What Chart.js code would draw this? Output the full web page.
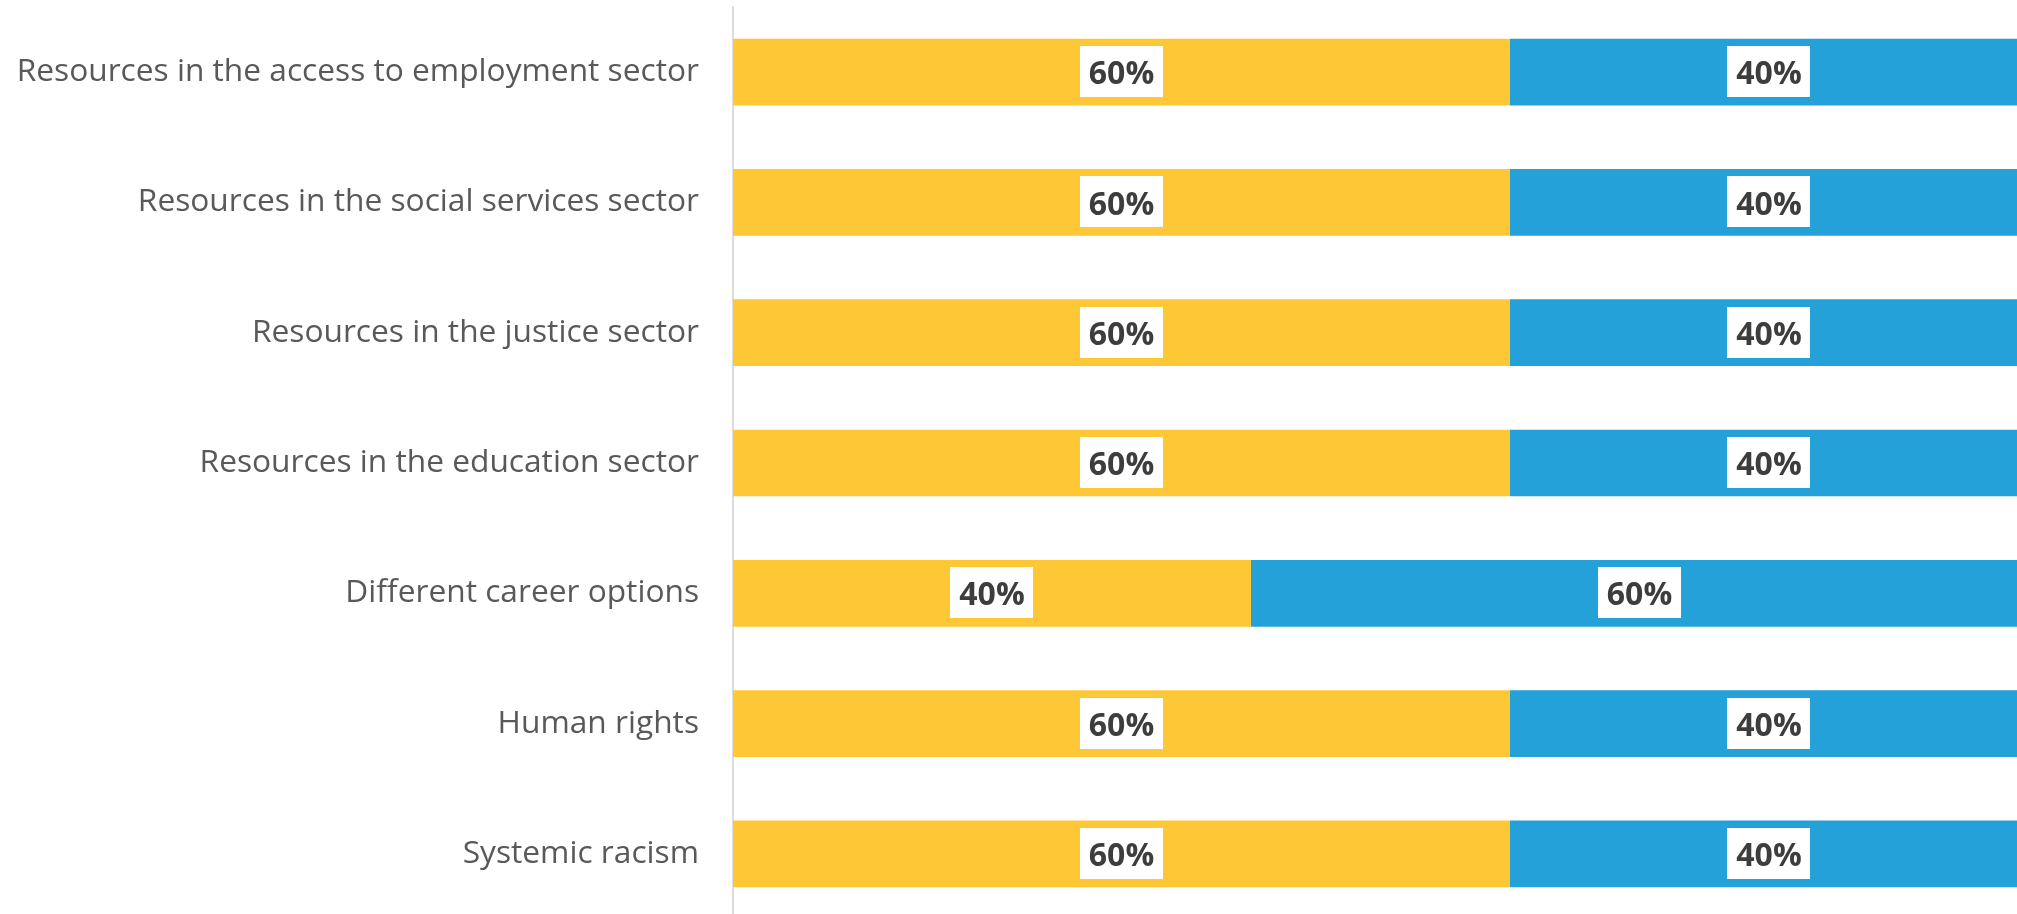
<!DOCTYPE html>
<html>
<head>
<meta charset="utf-8">
<script src="https://cdn.jsdelivr.net/npm/chart.js@4.4.1/dist/chart.umd.min.js"></script>
<style>
  html, body { margin: 0; padding: 0; background: #fff; overflow: hidden; }
  #wrap { position: relative; width: 2028px; height: 919px; }
</style>
</head>
<body>
<div id="wrap"><canvas id="myChart"></canvas></div>
<script>
// data
var categories = [
  'Resources in the access to employment sector',
  'Resources in the social services sector',
  'Resources in the justice sector',
  'Resources in the education sector',
  'Different career options',
  'Human rights',
  'Systemic racism'
];
var yesValues = [60, 60, 60, 60, 40, 60, 60];
var noValues  = [40, 40, 40, 40, 60, 40, 40];

// white boxed percentage labels in the middle of each bar
var boxLabels = {
  id: 'boxLabels',
  afterDatasetsDraw: function(chart) {
    var ctx = chart.ctx;
    ctx.save();
    ctx.font = "bold 32px 'Open Sans'";
    ctx.textAlign = 'center';
    ctx.textBaseline = 'middle';
    chart.data.datasets.forEach(function(ds, i) {
      var meta = chart.getDatasetMeta(i);
      meta.data.forEach(function(bar, j) {
        var p = bar.getCenterPoint();
        var txt = ds.data[j] + '%';
        var w = ctx.measureText(txt).width + 18;
        var h = 51;
        ctx.fillStyle = '#ffffff';
        ctx.fillRect(Math.round(p.x - w / 2), Math.round(p.y - h / 2 - 0.5), Math.round(w), h);
        ctx.fillStyle = '#3d3d3d';
        ctx.fillText(txt, p.x, p.y + 3);
      });
    });
    ctx.restore();
  }
};

Chart.defaults.font.family = "'Open Sans', sans-serif";

const ctx = document.getElementById('myChart').getContext('2d');
const myChart = new Chart(ctx, {
    type: 'bar',
    data: {
        labels: categories,
        datasets: [{
            label: 'Yes',
            data: yesValues,
            backgroundColor: '#fec736',
            borderWidth: 0
        }, {
            label: 'No',
            data: noValues,
            backgroundColor: '#25a1da',
            borderWidth: 0
        }]
    },
    options: {
        indexAxis: 'y',
        responsive: true,
        maintainAspectRatio: false,
        animation: false,
        layout: { padding: { top: 7, left: 0, right: 0, bottom: 0 } },
        datasets: {
            bar: { barPercentage: 1, categoryPercentage: 0.512 }
        },
        scales: {
            x: {
                stacked: true,
                min: 0,
                max: 100,
                display: false
            },
            y: {
                stacked: true,
                grid: { display: false, drawTicks: false },
                border: { display: true, color: '#dcdcdc', width: 2 },
                ticks: {
                    color: '#595959',
                    padding: 34,
                    font: { size: 31.7 }
                },
                afterFit: function(scale) {
                    scale.width = 733;
                    scale.paddingTop = 0;
                    scale.paddingBottom = 0;
                }
            }
        },
        plugins: {
            legend: { display: false },
            title: { display: false },
            tooltip: { enabled: false }
        }
    },
    plugins: [boxLabels]
});
</script>
</body>
</html>
